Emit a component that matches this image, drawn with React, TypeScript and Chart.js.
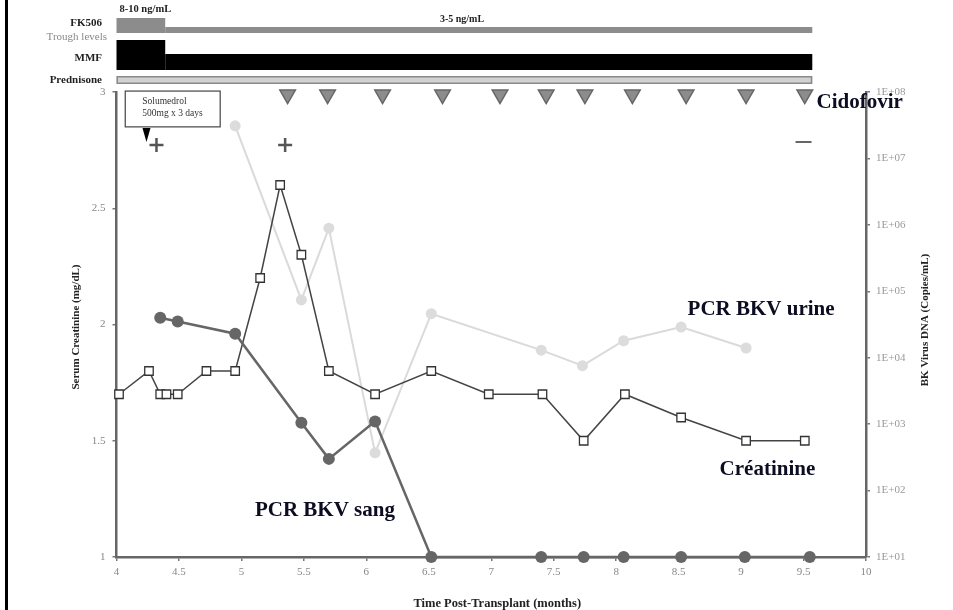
import { useEffect, useRef } from 'react';
import { Chart, registerables } from 'chart.js';

Chart.register(...registerables);

// ---- tick labels ----
const xTicks = [4, 4.5, 5, 5.5, 6, 6.5, 7, 7.5, 8, 8.5, 9, 9.5, 10];
const creatTicks = [1, 1.5, 2, 2.5, 3];
const virusTicks = [1e1, 1e2, 1e3, 1e4, 1e5, 1e6, 1e7, 1e8];

// ---- series ----
const creatMonths = [4.02, 4.26, 4.35, 4.4, 4.49, 4.72, 4.95, 5.15, 5.31, 5.48, 5.7, 6.07, 6.52, 6.98, 7.41, 7.74, 8.07, 8.52, 9.04, 9.51];
const creatValues = [1.7, 1.8, 1.7, 1.7, 1.7, 1.8, 1.8, 2.2, 2.6, 2.3, 1.8, 1.7, 1.8, 1.7, 1.7, 1.5, 1.7, 1.6, 1.5, 1.5];

const bloodMonths = [4.35, 4.49, 4.95, 5.48, 5.7, 6.07, 6.52, 7.4, 7.74, 8.06, 8.52, 9.03, 9.55];
const bloodCopies = [4.0e4, 3.5e4, 2.3e4, 1.05e3, 3.0e2, 1.1e3, 10, 10, 10, 10, 10, 10, 10];

const urineMonths = [4.95, 5.48, 5.7, 6.07, 6.52, 7.4, 7.73, 8.06, 8.52, 9.04];
const urineCopies = [3.1e7, 7.4e4, 8.9e5, 3.7e2, 4.6e4, 1.3e4, 7.6e3, 1.8e4, 2.9e4, 1.4e4];

const cidofovirMonths = [5.37, 5.69, 6.13, 6.61, 7.07, 7.44, 7.75, 8.13, 8.56, 9.04, 9.51];
const positivePcrMonths = [4.32, 5.35];
const negativePcrMonths = [9.5];
const solumedrolMonths = [4.24];
// regimen change points: start, dose reduction, end
const regimenBreaks = [4.0, 4.39, 9.57];

const SERIF = "'Liberation Serif', 'Times New Roman', serif";
const TEXT_DARK = '#0c0c22';

const decorPlugin = {
  id: 'decor',
  beforeDraw(chart: any) {
    const { ctx } = chart;
    const xs = chart.scales.x;
    const ys = chart.scales.y;
    ctx.save();
    ctx.fillStyle = '#ffffff';
    ctx.fillRect(0, 0, chart.width, chart.height);
    ctx.fillStyle = '#000000';
    ctx.fillRect(5, 0, 3, chart.height);

    const b0 = xs.getPixelForValue(regimenBreaks[0]);
    const b1 = xs.getPixelForValue(regimenBreaks[1]);
    const b2 = xs.getPixelForValue(regimenBreaks[2]);

    // FK506 trough levels
    ctx.fillStyle = '#8c8c8c';
    ctx.fillRect(b0, 18, b1 - b0, 15);
    ctx.fillRect(b1, 27, b2 - b1, 6);
    // MMF
    ctx.fillStyle = '#000000';
    ctx.fillRect(b0, 40, b1 - b0, 30);
    ctx.fillRect(b1, 54, b2 - b1, 16);
    // Prednisone
    ctx.fillStyle = '#d2d2d2';
    ctx.fillRect(b0, 76, b2 - b0, 8);
    ctx.strokeStyle = '#8a8a8a';
    ctx.lineWidth = 1.5;
    ctx.strokeRect(b0 + 0.75, 76.75, b2 - b0 - 1.5, 6.5);

    // left labels of regimen
    ctx.textBaseline = 'middle';
    ctx.textAlign = 'right';
    ctx.fillStyle = '#222';
    ctx.font = `bold 11px ${SERIF}`;
    ctx.fillText('FK506', 102, 23);
    ctx.fillText('MMF', 102, 58);
    ctx.fillText('Prednisone', 102, 80);
    ctx.font = `11px ${SERIF}`;
    ctx.fillStyle = '#888';
    ctx.fillText('Trough levels', 107, 37);
    ctx.textAlign = 'left';
    ctx.fillStyle = '#222';
    ctx.font = `bold 10.5px ${SERIF}`;
    ctx.fillText('8-10 ng/mL', b0 + 3, 9);
    ctx.textAlign = 'center';
    ctx.font = `bold 10px ${SERIF}`;
    ctx.fillText('3-5 ng/mL', 462, 19);

    // axis titles
    ctx.fillStyle = '#222';
    ctx.font = `bold 12.5px ${SERIF}`;
    ctx.textAlign = 'center';
    ctx.fillText('Time Post-Transplant (months)', (xs.left + xs.right) / 2 + 6, 604);
    ctx.font = `bold 11px ${SERIF}`;
    ctx.save();
    ctx.translate(76, 327);
    ctx.rotate(-Math.PI / 2);
    ctx.fillText('Serum Creatinine (mg/dL)', 0, 0);
    ctx.restore();
    ctx.save();
    ctx.translate(925, 320);
    ctx.rotate(-Math.PI / 2);
    ctx.fillText('BK Virus DNA (Copies/mL)', 0, 0);
    ctx.restore();

    // Solumedrol box
    const bx0 = xs.getPixelForValue(4.07);
    const bx1 = xs.getPixelForValue(4.83);
    const by0 = ys.getPixelForValue(3.004);
    const by1 = ys.getPixelForValue(2.85);
    ctx.fillStyle = '#fff';
    ctx.fillRect(bx0, by0, bx1 - bx0, by1 - by0);
    ctx.strokeStyle = '#444';
    ctx.lineWidth = 1.2;
    ctx.strokeRect(bx0, by0, bx1 - bx0, by1 - by0);
    ctx.fillStyle = '#333';
    ctx.textAlign = 'left';
    ctx.textBaseline = 'alphabetic';
    ctx.font = `9.5px ${SERIF}`;
    ctx.fillText('Solumedrol', bx0 + 17, by0 + 13);
    ctx.fillText('500mg x 3 days', bx0 + 17, by0 + 25);
    // arrow under the box
    ctx.fillStyle = '#000';
    solumedrolMonths.forEach((m) => {
      const px = xs.getPixelForValue(m);
      ctx.beginPath();
      ctx.moveTo(px - 4, by1 + 1);
      ctx.lineTo(px + 4, by1 + 1);
      ctx.lineTo(px, by1 + 15);
      ctx.closePath();
      ctx.fill();
    });
    ctx.restore();
  },
  afterDraw(chart: any) {
    const { ctx } = chart;
    const xs = chart.scales.x;
    const ys = chart.scales.y;
    ctx.save();
    ctx.fillStyle = TEXT_DARK;
    ctx.font = `bold 21px ${SERIF}`;
    ctx.textAlign = 'left';
    ctx.textBaseline = 'alphabetic';
    const labels: [string, number, number][] = [
      ['Cidofovir', 9.604, 2.931],
      ['PCR BKV urine', 8.572, 2.041],
      ['Créatinine', 8.828, 1.353],
      ['PCR BKV sang', 5.108, 1.176],
    ];
    labels.forEach(([t, mx, my]) => {
      ctx.fillText(t, xs.getPixelForValue(mx), ys.getPixelForValue(my));
    });
    ctx.restore();
  },
};

export default function App() {
  const ref = useRef<HTMLCanvasElement | null>(null);

  useEffect(() => {
    if (!ref.current) return;
    const tickFont = { family: SERIF, size: 11 };
    const cidofovirLevel = 2.989;
    const plusLevel = 2.772;
    const minusLevel = 2.785;

    const chart = new Chart(ref.current, {
      type: 'line',
      data: {
        datasets: [
          {
            label: 'Cidofovir',
            data: cidofovirMonths.map((m) => ({ x: m, y: cidofovirLevel })),
            yAxisID: 'y',
            showLine: false,
            pointStyle: 'triangle',
            rotation: 180,
            pointRadius: 9,
            backgroundColor: '#8c8c8c',
            borderColor: '#666',
            borderWidth: 1.5,
            clip: false,
          } as any,
          {
            label: 'PCR +',
            data: positivePcrMonths.map((m) => ({ x: m, y: plusLevel })),
            yAxisID: 'y',
            showLine: false,
            pointStyle: 'cross',
            pointRadius: 7,
            borderColor: '#555',
            borderWidth: 2.5,
            clip: false,
          } as any,
          {
            label: 'PCR -',
            data: negativePcrMonths.map((m) => ({ x: m, y: minusLevel })),
            yAxisID: 'y',
            showLine: false,
            pointStyle: 'line',
            pointRadius: 8,
            borderColor: '#666',
            borderWidth: 2,
            clip: false,
          } as any,
          {
            label: 'PCR BKV sang',
            data: bloodMonths.map((m, i) => ({ x: m, y: bloodCopies[i] })),
            yAxisID: 'y2',
            borderColor: '#666',
            backgroundColor: '#666',
            borderWidth: 2.5,
            pointRadius: 6,
            pointBorderWidth: 0,
            tension: 0,
            clip: false,
          } as any,
          {
            label: 'Créatinine',
            data: creatMonths.map((m, i) => ({ x: m, y: creatValues[i] })),
            yAxisID: 'y',
            borderColor: '#444',
            borderWidth: 1.5,
            pointStyle: 'rect',
            pointRadius: 6,
            pointBackgroundColor: '#fff',
            pointBorderColor: '#333',
            pointBorderWidth: 1.3,
            tension: 0,
            clip: false,
          } as any,
          {
            label: 'PCR BKV urine',
            data: urineMonths.map((m, i) => ({ x: m, y: urineCopies[i] })),
            yAxisID: 'y2',
            borderColor: '#dadada',
            backgroundColor: '#dcdcdc',
            borderWidth: 2,
            pointRadius: 5.5,
            pointBorderWidth: 0,
            tension: 0,
            clip: false,
          } as any,
        ],
      },
      options: {
        animation: false,
        responsive: false,
        events: [],
        layout: { padding: { top: 92, left: 0, right: 0, bottom: 0 } },
        plugins: { legend: { display: false }, tooltip: { enabled: false } },
        scales: {
          x: {
            type: 'linear',
            min: 4,
            max: 10,
            afterBuildTicks: (s: any) => {
              s.ticks = xTicks.map((v) => ({ value: v }));
            },
            afterFit: (s: any) => {
              s.height = 53;
            },
            ticks: { font: tickFont, color: '#888', padding: 5, maxRotation: 0, autoSkip: false, callback: (v: any) => String(v) },
            grid: { drawOnChartArea: false, drawTicks: true, tickLength: 4, color: '#777', lineWidth: 1.5 },
            border: { color: '#666', width: 2.5 },
          },
          y: {
            type: 'linear',
            position: 'left',
            min: 1,
            max: 3,
            afterBuildTicks: (s: any) => {
              s.ticks = creatTicks.map((v) => ({ value: v }));
            },
            afterFit: (s: any) => {
              s.width = 116.5;
            },
            ticks: { font: tickFont, color: '#888', padding: 7, callback: (v: any) => String(v) },
            grid: { drawOnChartArea: false, drawTicks: true, tickLength: 4, color: '#777', lineWidth: 1.5 },
            border: { color: '#666', width: 2.5 },
          },
          y2: {
            type: 'logarithmic',
            position: 'right',
            min: 10,
            max: 1e8,
            afterBuildTicks: (s: any) => {
              s.ticks = virusTicks.map((v) => ({ value: v }));
            },
            afterFit: (s: any) => {
              s.width = 87;
            },
            ticks: {
              font: tickFont,
              color: '#999',
              padding: 6,
              callback: (v: any) => '1E+' + String(Math.round(Math.log10(Number(v)))).padStart(2, '0'),
            },
            grid: { drawOnChartArea: false, drawTicks: true, tickLength: 4, color: '#777', lineWidth: 1.5 },
            border: { color: '#666', width: 2.5 },
          },
        },
      } as any,
      plugins: [decorPlugin],
    });
    return () => chart.destroy();
  }, []);

  return (
    <div style={{ position: 'fixed', left: 0, top: 0, width: 953, height: 610, background: '#fff' }}>
      <canvas ref={ref} width={953} height={610} style={{ display: 'block' }} />
    </div>
  );
}
